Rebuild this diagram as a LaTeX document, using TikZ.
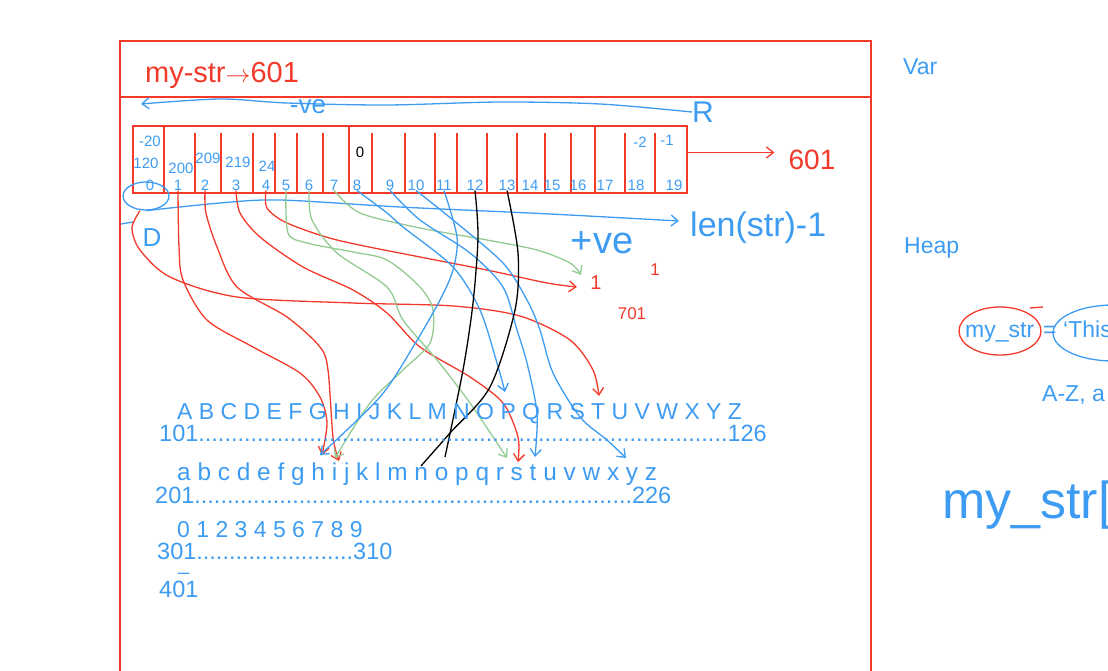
\documentclass[tikz,border=0pt]{standalone}
\usepackage{fontspec}
\setmainfont{Liberation Sans}
\usetikzlibrary{positioning, arrows.meta, shapes.geometric}

\definecolor{inkred}{HTML}{F2392A}
\definecolor{inkblue}{HTML}{3D9CF2}
\definecolor{inkgreen}{HTML}{92CB92}

\newcommand{\dotrun}[1]{\foreach \k in {1,...,#1}{.}}

\begin{document}
\begin{tikzpicture}[x=1pt, y=-1pt,
    frame/.style={draw=inkred, line width=1.6pt},
    redpen/.style={draw=inkred, line width=1.3pt},
    bluepen/.style={draw=inkblue, line width=1.3pt},
    greenpen/.style={draw=inkgreen, line width=1.3pt},
    blackpen/.style={draw=black, line width=1.3pt},
    tip/.style={-{Straight Barb[length=7pt,width=11pt]}},
    idx/.style={text=inkblue, inner sep=0pt, font=\fontsize{15}{15}\selectfont},
    hand/.style={inner sep=0pt, font=\fontsize{#1}{#1}\selectfont},
    row/.style={text=inkblue, inner sep=0pt, anchor=base west, font=\fontsize{#1}{#1}\selectfont}]
  \useasboundingbox (0,0) rectangle (1108,671);
  \clip (0,0) rectangle (1108,671);

  % memory frame
  \draw[frame] (120,671) -- (120,41) -- (871,41) -- (871,671);
  \draw[frame] (120,97) -- (871,97);
  \node[hand=29, text=inkred] (var) at (222,75) {my-str$\rightarrow$601};

  % negative direction
  \node[hand=30, text=inkblue] (rmark) at (703,112) {R};
  \coordinate (negend) at (141,104);
  \draw[bluepen, tip] plot[smooth] coordinates {(rmark.west) (600,104) (500,102) (387,105) (287,103) (220,99) (negend)};
  \node[hand=26, text=inkblue] (neg) at (308,107) {-ve};

  % the string cells
  \node[draw=inkred, line width=1.4pt, minimum width=554, minimum height=67, inner sep=0pt] (arr) at (410,159.5) {};
  \foreach \x in {164,349,595}
    \draw[redpen] (\x,126) -- (\x,193);
  \foreach \x in {195,221,253,275,297,323,372,405,435,457,487,517,545,571,625,655}
    \draw[redpen] (\x,133) -- (\x,193);
  \foreach \n/\x in {0/150,1/178,2/205,3/236,4/266,5/286,6/309,7/334,8/357,9/390,10/416,11/444,12/475,13/507,14/530,15/552,16/578,17/605,18/636,19/674}
    \node[idx] (c\n) at (\x,185) {\n};
  \foreach \t/\x/\y in {-20/150/141,120/146/163,200/181/168,209/208/158,219/238/162,24/267/166,-2/640/142,-1/667/140}
    \node[idx] at (\x,\y) {\t};
  \node[hand=15] (zeroval) at (360,152) {0};
  \node[hand=28, text=inkred] (addr) at (812,160) {601};
  \draw[redpen, tip, shorten >=14pt] ([yshift=7pt]arr.east) -- ([yshift=7pt]arr.east -| addr.west);

  % positive direction
  \node[draw=inkblue, line width=1.3pt, ellipse, minimum width=46, minimum height=28, inner sep=0pt] (zero) at (146,196) {};
  \node[hand=34, text=inkblue, anchor=west] (lenlbl) at (690,228) {len(str)-1};
  \coordinate (posend) at (679,221);
  \draw[bluepen, tip] plot[smooth] coordinates {(zero.south) (220,203) (280,200) (400,207) (550,214) (posend)};
  \draw[bluepen] (121,224) -- (133,222);
  \node[hand=38, text=inkblue] (pos) at (602,243) {+ve};
  \node[hand=26, text=inkblue] (dmark) at (152,238) {D};
  \node[hand=20, text=inkred] (oneA) at (596,283) {1};
  \node[hand=17, text=inkred] (oneB) at (655,270) {1};
  \node[hand=17, text=inkred] (seven) at (632,314) {701};

  % arrow ends
  \coordinate (toT) at (599,396);
  \coordinate (toh) at (322,455);
  \coordinate (toi) at (339,461);
  \coordinate (tos) at (518,462);
  \coordinate (toone) at (577,287);
  \coordinate (toi2) at (335,458);
  \coordinate (tor) at (507,458);
  \coordinate (toone2) at (581,275);
  \coordinate (toO) at (505,392);
  \coordinate (tot) at (535,457);
  \coordinate (toy) at (626,458);
  \coordinate (toh2) at (320,455);
  \coordinate (ton) at (445,457);
  \coordinate (ton2) at (421,466);

  \draw[redpen, tip] plot[smooth] coordinates {([xshift=-6pt]zero.south) (132,228) (140,250) (170,277) (237,297) (353,303) (453,306) (520,316) (570,340) (593,370) (toT)};
  \draw[redpen, tip] plot[smooth] coordinates {(c1.south) (179,247) (183,280) (207,320) (253,347) (300,373) (320,397) (327,423) (toh)};
  \draw[redpen, tip] plot[smooth] coordinates {(c2.south) (206,213) (217,247) (237,287) (287,317) (320,347) (328,370) (333,437) (toi)};
  \draw[redpen, tip] plot[smooth] coordinates {(c3.south) (240,213) (260,237) (303,267) (353,290) (387,313) (420,347) (470,377) (503,403) (518,437) (tos)};
  \draw[redpen, tip] plot[smooth] coordinates {(c4.south) (267,208) (287,223) (337,240) (420,257) (487,270) (547,283) (toone)};
  \draw[greenpen, tip] plot[smooth] coordinates {(c5.south) (288,233) (307,243) (353,252) (387,260) (420,287) (433,310) (430,343) (403,370) (370,403) (toi2)};
  \draw[greenpen, tip] plot[smooth] coordinates {(c6.south) (312,220) (337,253) (387,287) (403,320) (437,360) (470,403) (tor)};
  \draw[greenpen, tip] plot[smooth] coordinates {(c7.south) (360,213) (420,228) (487,240) (537,250) (570,263) (toone2)};
  \draw[bluepen, tip] plot[smooth] coordinates {(c8.south) (387,213) (403,227) (453,267) (480,310) (497,363) (toO)};
  \draw[bluepen, tip] plot[smooth] coordinates {(c9.south) (420,220) (470,253) (503,287) (517,330) (527,363) (537,413) (tot)};
  \draw[bluepen, tip] plot[smooth] coordinates {(c10.south) (453,220) (503,263) (527,300) (540,330) (553,373) (580,417) (607,440) (toy)};
  \draw[bluepen, tip] plot[smooth] coordinates {(c11.south) (457,237) (453,270) (440,300) (413,347) (380,397) (toh2)};
  \draw[blackpen] plot[smooth] coordinates {(c12.south) (478,237) (473,303) (463,370) (ton)};
  \draw[blackpen] plot[smooth] coordinates {(c13.south) (518,253) (515,310) (490,387) (450,433) (ton2)};

  % character codes
  \node[row=23] (upper) at (177,419) {A B C D E F G H I J K L M N O P Q R S T U V W X Y Z};
  \node[row=23.5] (uppercode) at (159,441) {101\dotrun{81}126};
  \node[row=24.4] (lower) at (177,480) {a b c d e f g h i j k l m n o p q r s t u v w x y z};
  \node[row=23.5] (lowercode) at (155,503) {201\dotrun{67}226};
  \node[row=23] (digits) at (177,537) {0 1 2 3 4 5 6 7 8 9};
  \node[row=23.5] (digitcode) at (157,559) {301\dotrun{24}310};
  \node[row=20, text height=1pt, text depth=4pt] (gap) at (178,570) {\_};
  \node[row=23.5] (nextcode) at (159,597) {401};

  % right column
  \node[row=23] (varlbl) at (903,75) {Var};
  \node[row=23] (heaplbl) at (904,253) {Heap};
  \node[row=23] (mystr) at (965,337) {my\_str};
  \node[row=23] (eq) at (1043,337) {=};
  \node[row=23] (this) at (1063,337) {`This};
  \draw[redpen] (1000,331) ellipse [x radius=41, y radius=24];
  \draw[redpen] (1030,308) -- (1043,307);
  \draw[bluepen] (1113,333) ellipse [x radius=60, y radius=28];
  \node[row=23] (range) at (1042,401) {A-Z, a};
  \node[row=52] (index) at (942,518) {my\_str[};
\end{tikzpicture}
\end{document}
